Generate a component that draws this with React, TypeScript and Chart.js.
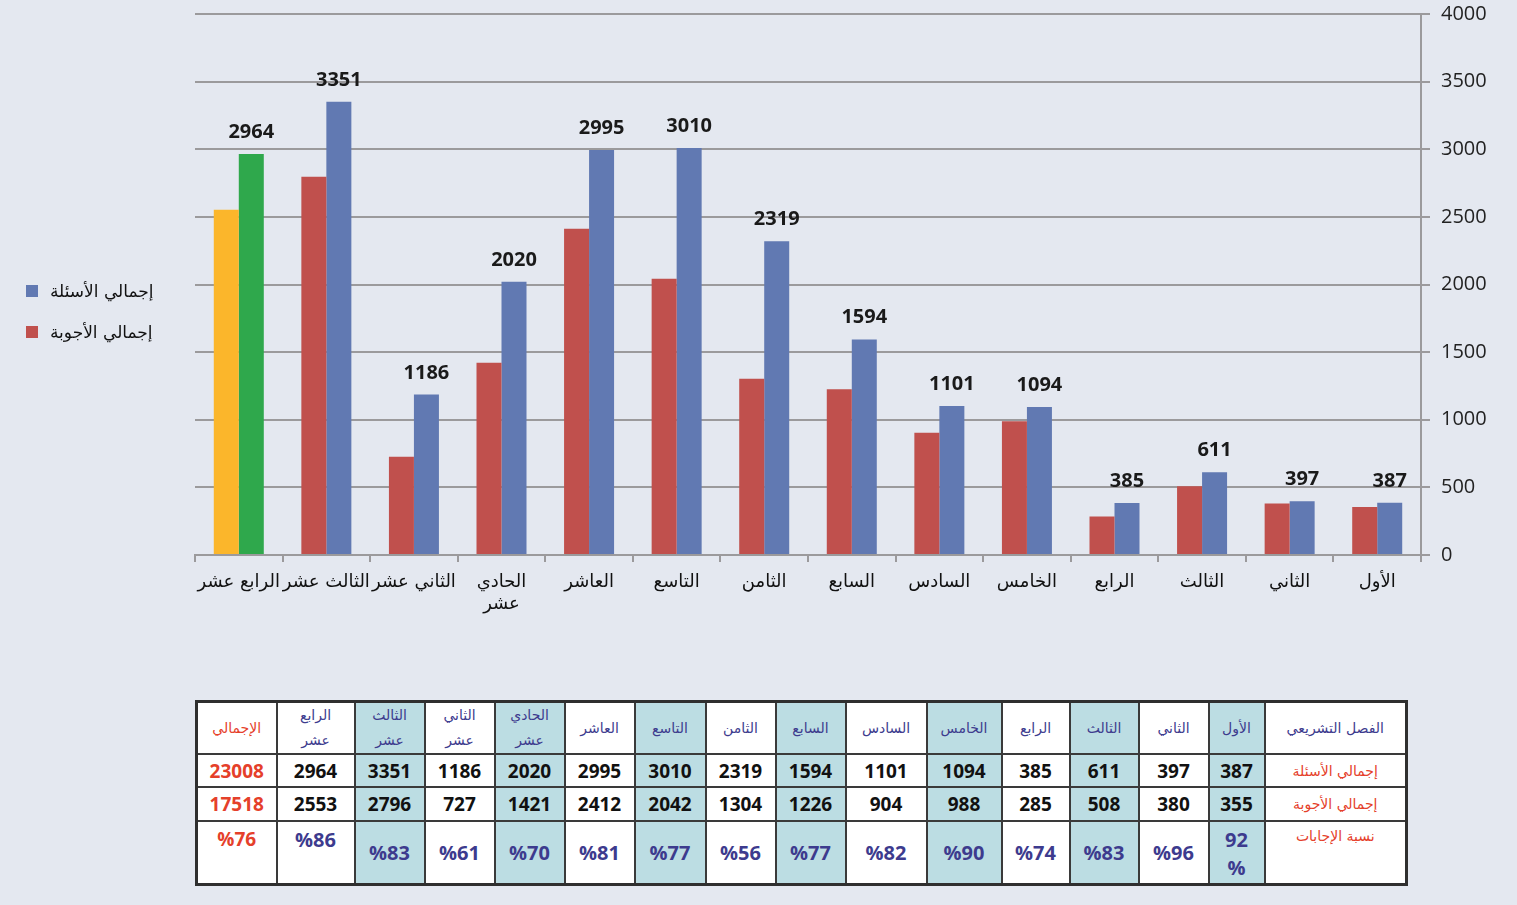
import React, { useEffect, useRef } from "react";
import { Chart, registerables } from "chart.js";

Chart.register(...registerables);

// Legislative terms (from first to fourteenth)
const terms: string[] = [
  "الأول", "الثاني", "الثالث", "الرابع", "الخامس", "السادس", "السابع",
  "الثامن", "التاسع", "العاشر", "الحادي عشر", "الثاني عشر", "الثالث عشر", "الرابع عشر",
];
// Axis labels (multi-line where the original wraps)
const axisLabels: (string | string[])[] = [
  "الأول", "الثاني", "الثالث", "الرابع", "الخامس", "السادس", "السابع",
  "الثامن", "التاسع", "العاشر", ["الحادي", "عشر"], "الثاني عشر", "الثالث عشر", "الرابع عشر",
];
// Table header labels (two-line where the original wraps)
const headerLabels: string[][] = [
  ["الأول"], ["الثاني"], ["الثالث"], ["الرابع"], ["الخامس"], ["السادس"], ["السابع"],
  ["الثامن"], ["التاسع"], ["العاشر"], ["الحادي", "عشر"], ["الثاني", "عشر"], ["الثالث", "عشر"], ["الرابع", "عشر"],
];
const questions: number[] = [387, 397, 611, 385, 1094, 1101, 1594, 2319, 3010, 2995, 2020, 1186, 3351, 2964];
const answers: number[] = [355, 380, 508, 285, 988, 904, 1226, 1304, 2042, 2412, 1421, 727, 2796, 2553];
const ratios: string[][] = [
  ["92", "%"], ["%96"], ["%83"], ["%74"], ["%90"], ["%82"], ["%77"],
  ["%56"], ["%77"], ["%81"], ["%70"], ["%61"], ["%83"], ["%86"],
];
const totalQuestions = "23008";
const totalAnswers = "17518";
const totalRatio = "%76";

const seriesQuestions = "إجمالي الأسئلة";
const seriesAnswers = "إجمالي الأجوبة";
const rowHeader = "الفصل التشريعي";
const rowRatio = "نسبة الإجابات";
const totalHeader = "الإجمالي";

const yMin = 0;
const yMax = 4000;
const yStep = 500;

// layout constants (not data)
const colWidths = [80, 78, 70, 70, 70, 70, 71, 70, 70, 81, 75, 68, 69, 70, 56, 142];

const BG = "#e4e8f0";
const BLUE = "#6179b2";
const RED = "#c0504d";
const YELLOW = "#fbb62b";
const GREEN = "#2fa84c";
const GRID = "#9b9a9c";
const SHADE = "#bcdde3";
const PURPLE = "#3d3b8e";
const TRED = "#e5402a";

const NUM_FONT = '"Open Sans", "DejaVu Sans", sans-serif';
const AR_FONT = '"DejaVu Sans", sans-serif';

const valueLabels = {
  id: "valueLabels",
  afterDatasetsDraw(chart: any) {
    const meta = chart.getDatasetMeta(1);
    const ctx = chart.ctx;
    ctx.save();
    ctx.font = `bold 20px ${NUM_FONT}`;
    ctx.fillStyle = "#1a1a1a";
    ctx.textAlign = "center";
    ctx.textBaseline = "alphabetic";
    meta.data.forEach((bar: any, i: number) => {
      ctx.fillText(String(questions[i]), bar.x, bar.y - 16);
    });
    ctx.restore();
  },
};

export default function App() {
  const ref = useRef<HTMLCanvasElement>(null);

  useEffect(() => {
    if (!ref.current) return;
    const last = terms.length - 1;
    const chart = new Chart(ref.current, {
      type: "bar",
      data: {
        labels: axisLabels as any,
        datasets: [
          {
            label: seriesAnswers,
            data: answers,
            backgroundColor: answers.map((_, i) => (i === last ? YELLOW : RED)),
            categoryPercentage: 0.571,
            barPercentage: 1,
          },
          {
            label: seriesQuestions,
            data: questions,
            backgroundColor: questions.map((_, i) => (i === last ? GREEN : BLUE)),
            categoryPercentage: 0.571,
            barPercentage: 1,
          },
        ],
      },
      options: {
        responsive: false,
        animation: false,
        layout: { padding: { left: 195, top: 14, right: 0, bottom: 0 } },
        plugins: { legend: { display: false }, tooltip: { enabled: false } },
        scales: {
          x: {
            reverse: true,
            grid: { offset: true, drawOnChartArea: false, tickLength: 7, color: GRID, lineWidth: 2 },
            border: { color: GRID, width: 2 },
            ticks: {
              font: { family: AR_FONT, size: 18 },
              color: "#111",
              padding: 10,
              maxRotation: 0,
              autoSkip: false,
            },
            afterFit: (s: any) => {
              s.height = 85;
            },
          } as any,
          y: {
            position: "right",
            min: yMin,
            max: yMax,
            ticks: {
              stepSize: yStep,
              font: { family: NUM_FONT, size: 20 },
              color: "#222",
              padding: 11,
              callback: (v: any) => String(v),
            },
            grid: { color: GRID, lineWidth: 2, tickLength: 9 },
            border: { color: GRID, width: 2 },
            afterFit: (s: any) => {
              s.width = 96;
              s.paddingTop = 0;
              s.paddingBottom = 0;
            },
          } as any,
        },
      },
      plugins: [valueLabels],
    });
    return () => chart.destroy();
  }, []);

  // table columns in visual order (left to right)
  const order = terms.map((_, i) => i).reverse();
  const shaded = (i: number) => i % 2 === 0;

  const border = "2px solid #3a3a3a";
  const cellBase: React.CSSProperties = {
    border,
    textAlign: "center",
    padding: 0,
    boxSizing: "border-box",
  };
  const numStyle: React.CSSProperties = {
    ...cellBase,
    fontFamily: NUM_FONT,
    fontWeight: 700,
    fontSize: 19,
    color: "#111",
    verticalAlign: "middle",
  };

  return (
    <div style={{ position: "relative", width: 1517, height: 905, background: BG, overflow: "hidden" }}>
      <style>{`body{margin:0;}`}</style>
      <canvas
        ref={ref}
        width={1517}
        height={640}
        style={{ position: "absolute", left: 0, top: 0, width: 1517, height: 640 }}
      />
      {/* legend */}
      {[
        { label: seriesQuestions, color: BLUE, top: 281 },
        { label: seriesAnswers, color: RED, top: 322 },
      ].map((it) => (
        <div
          key={it.label}
          style={{ position: "absolute", left: 26, top: it.top, height: 20, display: "flex", alignItems: "center" }}
        >
          <div style={{ width: 12, height: 12, background: it.color, marginRight: 12 }} />
          <span style={{ fontFamily: AR_FONT, fontSize: 17, color: "#111", direction: "rtl", whiteSpace: "nowrap" }}>
            {it.label}
          </span>
        </div>
      ))}
      {/* data table */}
      <table
        style={{
          position: "absolute",
          left: 195,
          top: 700,
          width: 1210,
          height: 182,
          borderCollapse: "collapse",
          tableLayout: "fixed",
          border: "3px solid #2f2f2f",
          background: "#fff",
        }}
      >
        <colgroup>
          {colWidths.map((w, i) => (
            <col key={i} style={{ width: w }} />
          ))}
        </colgroup>
        <tbody>
          <tr style={{ height: 52 }}>
            <td style={{ ...cellBase, fontFamily: AR_FONT, fontSize: 14, color: TRED }}>{totalHeader}</td>
            {order.map((i) => (
              <td
                key={i}
                style={{
                  ...cellBase,
                  background: shaded(i) ? SHADE : "#fff",
                  fontFamily: AR_FONT,
                  fontSize: 14,
                  color: PURPLE,
                  lineHeight: "25px",
                }}
              >
                {headerLabels[i].map((t, k) => (
                  <div key={k}>{t}</div>
                ))}
              </td>
            ))}
            <td style={{ ...cellBase, fontFamily: AR_FONT, fontSize: 14, color: PURPLE }}>{rowHeader}</td>
          </tr>
          <tr style={{ height: 33 }}>
            <td style={{ ...numStyle, color: TRED }}>{totalQuestions}</td>
            {order.map((i) => (
              <td key={i} style={{ ...numStyle, background: shaded(i) ? SHADE : "#fff" }}>
                {questions[i]}
              </td>
            ))}
            <td style={{ ...cellBase, fontFamily: AR_FONT, fontSize: 14, color: TRED }}>{seriesQuestions}</td>
          </tr>
          <tr style={{ height: 34 }}>
            <td style={{ ...numStyle, color: TRED }}>{totalAnswers}</td>
            {order.map((i) => (
              <td key={i} style={{ ...numStyle, background: shaded(i) ? SHADE : "#fff" }}>
                {answers[i]}
              </td>
            ))}
            <td style={{ ...cellBase, fontFamily: AR_FONT, fontSize: 14, color: TRED }}>{seriesAnswers}</td>
          </tr>
          <tr style={{ height: 63 }}>
            <td style={{ ...numStyle, color: TRED, verticalAlign: "top", paddingTop: 4 }}>{totalRatio}</td>
            {order.map((i) => {
              const top = i === terms.length - 1 || ratios[i].length > 1;
              return (
                <td
                  key={i}
                  style={{
                    ...numStyle,
                    fontSize: 20,
                    color: PURPLE,
                    background: shaded(i) ? SHADE : "#fff",
                    verticalAlign: top ? "top" : "middle",
                    paddingTop: top ? 4 : 0,
                    lineHeight: ratios[i].length > 1 ? "28px" : undefined,
                  }}
                >
                  {ratios[i].map((t, k) => (
                    <div key={k}>{t}</div>
                  ))}
                </td>
              );
            })}
            <td
              style={{
                ...cellBase,
                fontFamily: AR_FONT,
                fontSize: 14,
                color: TRED,
                verticalAlign: "top",
                paddingTop: 6,
              }}
            >
              {rowRatio}
            </td>
          </tr>
        </tbody>
      </table>
    </div>
  );
}
